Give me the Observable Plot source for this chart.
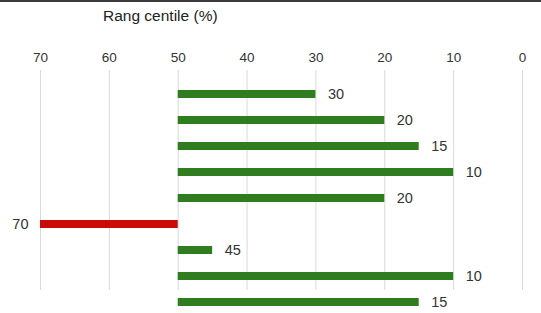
<!DOCTYPE html>
<html>
<head>
<meta charset="utf-8">
<script src="https://cdn.jsdelivr.net/npm/d3@7"></script>
<script src="https://cdn.jsdelivr.net/npm/@observablehq/plot@0.6"></script>
<style>
  html, body { margin: 0; padding: 0; background: #fff; }
  #wrap { position: relative; width: 541px; height: 313px; overflow: hidden; }
  #topline { position: absolute; left: 0; top: 0; width: 541px; height: 2px; background: #3c3c3c; }
  #title { position: absolute; left: 103px; top: 7px; font: 15.5px "Liberation Sans", Arial, sans-serif; color: #222; }
</style>
</head>
<body>
<div id="wrap">
  <div id="chart"></div>
  <div id="topline"></div>
  <div id="title">Rang centile (%)</div>
</div>
<script>
const categories = ["1", "2", "3", "4", "5", "6", "7", "8", "9"];
const values = [30, 20, 15, 10, 20, 70, 45, 10, 15];
const baseline = 50;
const xTicks = [70, 60, 50, 40, 30, 20, 10, 0];

const data = categories.map((c, i) => ({category: c, value: values[i]}));
const above = data.filter(d => d.value > baseline);
const below = data.filter(d => d.value <= baseline);
const green = "#2f7d1f";
const red = "#cc0a0a";

const chart = Plot.plot({
  width: 541,
  height: 313,
  marginTop: 70,
  marginBottom: 23,
  marginLeft: 40,
  marginRight: 19,
  style: {fontFamily: "'Liberation Sans', Arial, sans-serif", fontSize: "13.5px", color: "#333", background: "transparent"},
  x: {domain: [70, 0]},
  y: {domain: categories, range: [81, 315], paddingInner: 0.68, paddingOuter: 0.34, axis: null},
  marks: [
    Plot.gridX(xTicks, {stroke: "#d9d9d9", strokeOpacity: 1, strokeWidth: 1}),
    Plot.axisX(xTicks, {anchor: "top", tickSize: 0, tickPadding: 9, label: null, fontSize: 13.5, fill: "#333"}),
    Plot.barX(data, {
      x1: baseline,
      x2: "value",
      y: "category",
      fill: d => d.value > baseline ? red : green
    }),
    Plot.text(below, {x: "value", y: "category", text: d => String(d.value), textAnchor: "start", dx: 12, fontSize: 14.5, fill: "#333"}),
    Plot.text(above, {x: "value", y: "category", text: d => String(d.value), textAnchor: "end", dx: -12, fontSize: 14.5, fill: "#333"})
  ]
});
document.getElementById("chart").appendChild(chart);
</script>
</body>
</html>
